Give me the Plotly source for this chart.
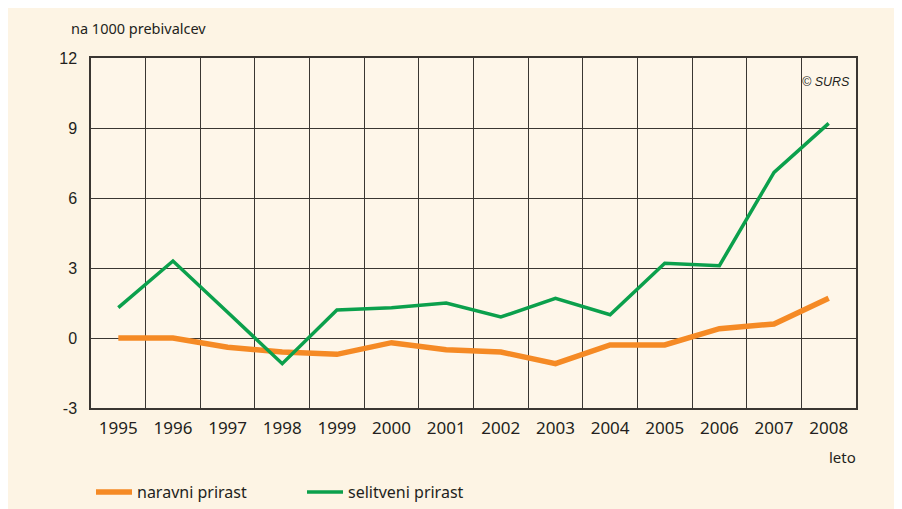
import plotly.graph_objects as go

years = list(range(1995, 2009))
naravni = [0.0, 0.0, -0.4, -0.6, -0.7, -0.2, -0.5, -0.6, -1.1, -0.3, -0.3, 0.4, 0.6, 1.7]
selitveni = [1.3, 3.3, 1.1, -1.1, 1.2, 1.3, 1.5, 0.9, 1.7, 1.0, 3.2, 3.1, 7.1, 9.2]
y_ticks = [-3, 0, 3, 6, 9, 12]
y_tick_text = ["-3", "0", "3", "6", "9", "12"]
boundaries = [y + 0.5 for y in years[:-1]]

ORANGE = "#F58A25"
GREEN = "#0BA04C"
GRID = "#3a3632"
TEXT = "#231f20"

fig = go.Figure()
fig.add_trace(go.Scatter(x=years, y=naravni, mode="lines", name="naravni prirast",
                         line=dict(color=ORANGE, width=5.5)))
fig.add_trace(go.Scatter(x=years, y=selitveni, mode="lines", name="selitveni prirast",
                         line=dict(color=GREEN, width=3.5)))
# invisible trace to anchor the boundary grid axis
fig.add_trace(go.Scatter(x=[years[0] - 0.5, years[-1] + 0.5], y=[0, 0], xaxis="x2",
                         mode="lines", line=dict(width=0), showlegend=False, hoverinfo="skip"))

fig.update_layout(
    width=894, height=501,
    paper_bgcolor="#FDF4E4",
    plot_bgcolor="#FEF6E9",
    margin=dict(l=83, r=46, t=50, b=101, autoexpand=False),
    font=dict(family="Liberation Sans, Arial", color=TEXT),
    showlegend=True,
    legend=dict(orientation="h", x=0.0, xanchor="left", y=-0.24, yanchor="middle",
                xref="paper", yref="paper",
                font=dict(family="Noto Sans", size=16, color=TEXT),
                bgcolor="rgba(0,0,0,0)", entrywidth=160, itemwidth=36),
    xaxis=dict(range=[years[0] - 0.5, years[-1] + 0.5], tickvals=years,
               ticktext=[str(y) for y in years], showgrid=False, zeroline=False,
               showline=True, linecolor=GRID, linewidth=1.5, mirror=True, ticks="",
               tickfont=dict(family="Noto Sans", size=17, color=TEXT), ticklabelstandoff=4),
    xaxis2=dict(range=[years[0] - 0.5, years[-1] + 0.5], tickvals=boundaries,
                overlaying="x", showgrid=True, gridcolor=GRID, gridwidth=1,
                showticklabels=False, ticks="", zeroline=False, showline=False),
    yaxis=dict(range=[-3, 12], tickvals=y_ticks, ticktext=y_tick_text,
               showgrid=True, gridcolor=GRID, gridwidth=1,
               zeroline=False, showline=True, linecolor=GRID, linewidth=1.5, mirror=True,
               ticks="", tickfont=dict(family="Liberation Sans", size=16, color=TEXT),
               ticklabelstandoff=9),
    annotations=[
        dict(text="na 1000 prebivalcev", xref="paper", yref="paper", x=-0.029, y=1.0,
             yshift=30, xanchor="left", yanchor="middle", showarrow=False,
             font=dict(family="Noto Sans", size=14.5, color=TEXT)),
        dict(text="leto", xref="paper", yref="paper", x=1.003, y=0, yshift=-49,
             xanchor="right", yanchor="middle", showarrow=False,
             font=dict(family="Noto Sans", size=15, color=TEXT)),
        dict(text="<i>© SURS</i>", xref="paper", yref="paper", x=0.995, y=1.0, yshift=-24,
             xanchor="right", yanchor="middle", showarrow=False,
             font=dict(family="Liberation Sans", size=12.5, color=TEXT)),
    ],
)
fig.write_html("out.html")
